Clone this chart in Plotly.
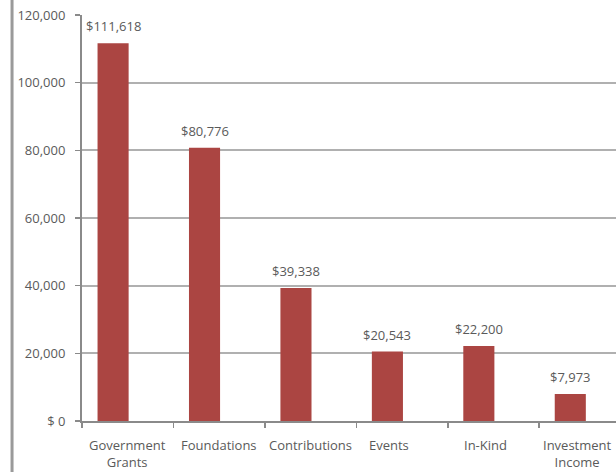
import plotly.graph_objects as go

categories = ["Government Grants", "Foundations", "Contributions", "Events", "In-Kind", "Investment Income"]
category_labels = ["Government<br>Grants", "Foundations", "Contributions", "Events", "In-Kind", "Investment<br>Income"]
values = [111618, 80776, 39338, 20543, 22200, 7973]
value_labels = ["$111,618", "$80,776", "$39,338", "$20,543", "$22,200", "$7,973"]
y_tickvals = [0, 20000, 40000, 60000, 80000, 100000, 120000]
y_ticktext = ["$ 0", "20,000", "40,000", "60,000", "80,000", "100,000", "120,000"]

BAR_COLOR = "#AB4542"
TEXT_COLOR = "#5a5a5a"
FONT = "Open Sans"

fig = go.Figure()
fig.add_trace(go.Bar(
    x=categories, y=values,
    marker=dict(color=BAR_COLOR, line=dict(width=0)),
    width=0.34, offset=-0.33,
    hoverinfo="skip",
))

for i, (v, t) in enumerate(zip(values, value_labels)):
    fig.add_annotation(x=i - 0.16, y=v, text=t, showarrow=False,
                       xref="x", yref="y", yanchor="bottom", yshift=6,
                       font=dict(family=FONT, size=13, color=TEXT_COLOR))

# category labels (the source shifts some of them slightly left)
label_xshift = [0, 0, 0, -13, -8, -7]
for i, (lab, dx) in enumerate(zip(category_labels, label_xshift)):
    fig.add_annotation(x=i, y=0, text=lab, showarrow=False,
                       xref="x", yref="y", yanchor="top", xanchor="center",
                       xshift=dx, yshift=-13, align="center",
                       font=dict(family=FONT, size=13, color=TEXT_COLOR))

# page border line at left
fig.add_shape(type="line", xref="paper", yref="paper",
              x0=-0.131, x1=-0.131, y0=-0.2, y1=1.1,
              line=dict(color="#9a9a9a", width=3))

fig.update_layout(
    width=616, height=472,
    margin=dict(l=82, r=0, t=15, b=51, pad=0, autoexpand=False),
    paper_bgcolor="white", plot_bgcolor="white",
    showlegend=False,
    font=dict(family=FONT, size=13, color=TEXT_COLOR),
    xaxis=dict(
        type="category", range=[-0.5, 5.34], automargin=False,
        showline=True, linecolor="#8a8a8a", linewidth=2,
        ticks="outside", tickson="boundaries", ticklen=5, tickcolor="#8a8a8a", tickwidth=1.5,
        showgrid=False, showticklabels=False,
    ),
    yaxis=dict(
        range=[0, 120000], tickvals=y_tickvals, ticktext=y_ticktext, automargin=False,
        showline=True, linecolor="#8a8a8a", linewidth=2,
        ticks="outside", ticklen=5, tickcolor="#8a8a8a", tickwidth=1.5,
        showgrid=True, gridcolor="#b0b0b0", gridwidth=2,
        zeroline=False,
        tickfont=dict(family=FONT, size=13, color=TEXT_COLOR),
        ticklabelstandoff=7,
    ),
)

fig.write_html("out.html",
               config={"displayModeBar": False, "staticPlot": True},
               post_script="document.body.style.margin='0';document.body.style.overflow='hidden';")
